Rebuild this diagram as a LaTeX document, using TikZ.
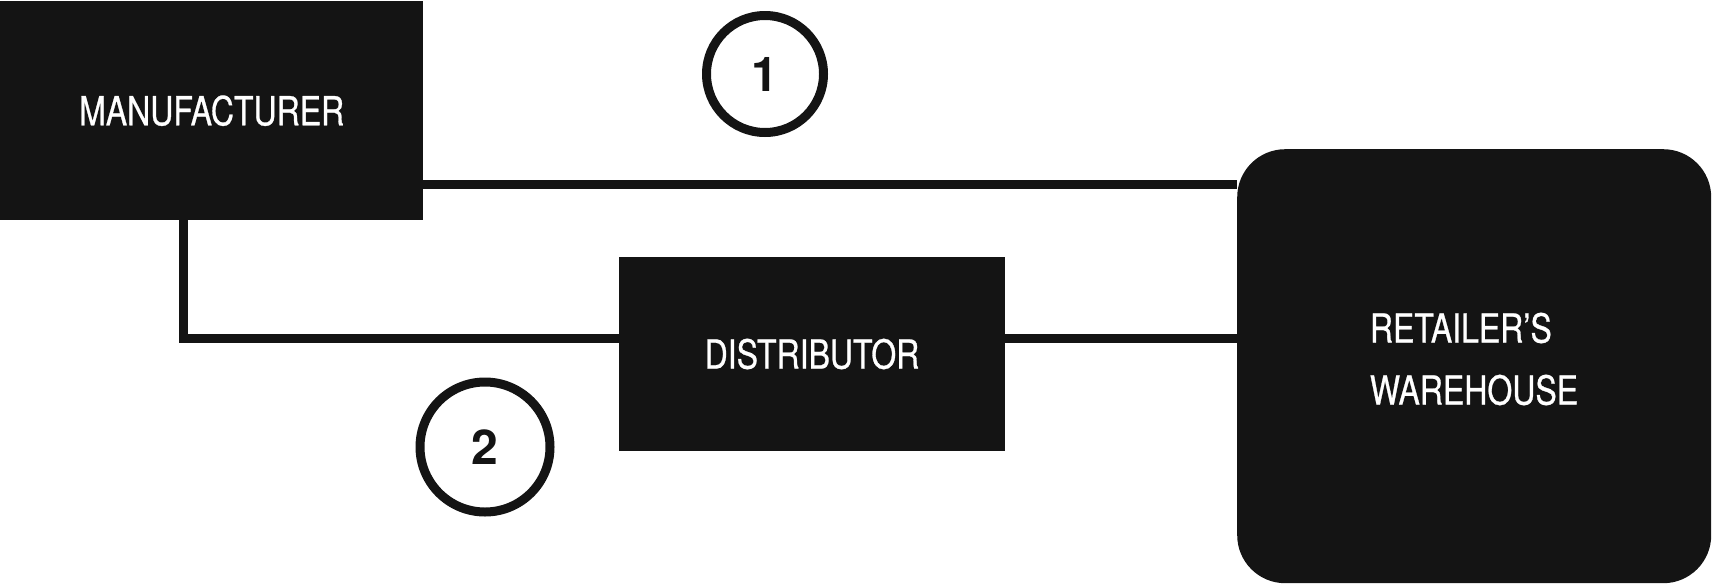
\documentclass[tikz,border=0pt]{standalone}
\usepackage{fontspec}
\setmainfont{TeX Gyre Heros}
\newfontfamily\condfont[FakeStretch=0.8,FakeBold=0.7]{TeX Gyre Heros}
\definecolor{ink}{HTML}{141414}
\begin{document}
\begin{tikzpicture}[x=1pt,y=-1pt,
  block/.style={fill=ink, draw=none, inner sep=0pt, text=white,
    font=\condfont\fontsize{40}{48}\selectfont},
  conn/.style={draw=ink, line width=9pt, line join=miter},
  numcirc/.style={circle, draw=ink, line width=9pt, inner sep=0pt,
    font=\bfseries\fontsize{48}{54}\selectfont, text=ink}]
\useasboundingbox (0,0) rectangle (1713,584);
\node[block, minimum width=423pt, minimum height=219pt, anchor=north west] (man) at (0,1) {MANUFACTURER};
\node[block, minimum width=386pt, minimum height=194pt] (dist) at (812,354) {DISTRIBUTOR};
\node[block, rounded corners=48pt, minimum width=474pt, minimum height=434pt, anchor=north west] (ret) at (1237,149) {};
\node[text=white, inner sep=0pt, align=left, font=\condfont\fontsize{40}{62}\selectfont] (rettext) at (1474,359) {RETAILER’S\\WAREHOUSE};
\node[numcirc, minimum size=117pt] (c1) at (765,74) {1};
\node[numcirc, minimum size=130pt] (c2) at (485,447) {2};
\coordinate (ya) at (0,184);
\coordinate (yb) at (0,338.5);
\coordinate (xa) at (183.5,0);
\draw[conn] (man.east |- ya) -- (ret.west |- ya);
\draw[conn] (man.south -| xa) |- (dist.west |- yb);
\draw[conn] (dist.east |- yb) -- (ret.west |- yb);
\end{tikzpicture}
\end{document}
